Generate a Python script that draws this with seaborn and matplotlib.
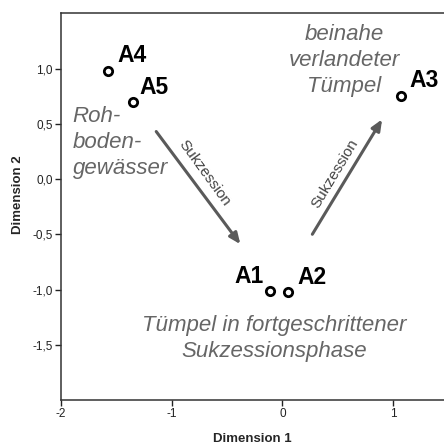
import matplotlib
matplotlib.use("Agg")
import matplotlib.pyplot as plt
import seaborn as sns
import pandas as pd

# Data
labels = ["A1", "A2", "A3", "A4", "A5"]
dim1 = [-0.11, 0.05, 1.07, -1.58, -1.35]
dim2 = [-1.01, -1.02, 0.75, 0.98, 0.70]
xticks = [-2, -1, 0, 1]
xticklabels = ["-2", "-1", "0", "1"]
yticks = [-1.5, -1.0, -0.5, 0.0, 0.5, 1.0]
yticklabels = ["-1,5", "-1,0", "-0,5", "0,0", "0,5", "1,0"]

sns.set_style("ticks")
plt.rcParams["font.family"] = ["Liberation Sans", "DejaVu Sans"]

df = pd.DataFrame({"Dimension 1": dim1, "Dimension 2": dim2, "label": labels})

fig = plt.figure(figsize=(4.44, 4.47), dpi=100)
ax = fig.add_axes([61/444, 1 - 400/447, 1 - 61/444 + 0.001, (400 - 13.3)/447])

sns.scatterplot(data=df, x="Dimension 1", y="Dimension 2", ax=ax,
                marker="o", s=36, facecolor="white", edgecolor="black",
                linewidth=2.0, zorder=5)

ax.set_xlim(-2, 1.463)
ax.set_ylim(-2.0, 1.5)
ax.set_xticks(xticks)
ax.set_xticklabels(xticklabels, fontsize=8.5)
ax.set_yticks(yticks)
ax.set_yticklabels(yticklabels, fontsize=8.5)
ax.tick_params(direction="out", length=4, width=1, colors="#222222", pad=2)
for s in ["left", "top", "bottom"]:
    ax.spines[s].set_color("#333333")
    ax.spines[s].set_linewidth(1.1)
    ax.spines[s].set_visible(True)
ax.spines["right"].set_visible(False)

ax.set_xlabel("Dimension 1", fontsize=9.5, fontweight="bold")
ax.set_ylabel("Dimension 2", fontsize=9.5, fontweight="bold")
ax.xaxis.set_label_coords(0.5, -0.085)
ax.yaxis.set_label_coords(-0.097, 0.53)

# point labels
offsets = {"A1": (-7, 8, "right"), "A2": (9, 8, "left"), "A3": (8, 9, "left"),
           "A4": (10, 9, "left"), "A5": (6, 8, "left")}
for lab, x, y in zip(labels, dim1, dim2):
    dx, dy, ha = offsets[lab]
    ax.annotate(lab, (x, y), xytext=(dx, dy), textcoords="offset pixels",
                ha=ha, va="baseline", fontsize=16.5, fontweight="bold", color="black")

grey = "#666666"
# region texts
ax.text(-1.894, 0.66, "Roh-\nboden-\ngewässer", style="italic", fontsize=16,
        color=grey, ha="left", va="top", linespacing=1.3)
ax.text(0.56, 1.40, "beinahe\nverlandeter\nTümpel", style="italic", fontsize=16,
        color=grey, ha="center", va="top", linespacing=1.3)
ax.text(-0.074, -1.44, "Tümpel in fortgeschrittener\nSukzessionsphase", style="italic",
        fontsize=16, color=grey, ha="center", va="center", linespacing=1.3)

# arrows
arrowprops = dict(arrowstyle="-|>,head_length=0.65,head_width=0.28", color="#5a5a5a",
                  lw=2.2, shrinkA=0, shrinkB=0)
ax.annotate("", xy=(-0.38, -0.59), xytext=(-1.14, 0.43), arrowprops=arrowprops)
ax.annotate("", xy=(0.90, 0.54), xytext=(0.27, -0.50), arrowprops=arrowprops)
ax.text(-0.70, 0.05, "Sukzession", rotation=-54, fontsize=11, color="#444444",
        ha="center", va="center", rotation_mode="anchor")
ax.text(0.47, 0.05, "Sukzession", rotation=59, fontsize=11, color="#444444",
        ha="center", va="center", rotation_mode="anchor")

fig.savefig("out.png", dpi=100)
